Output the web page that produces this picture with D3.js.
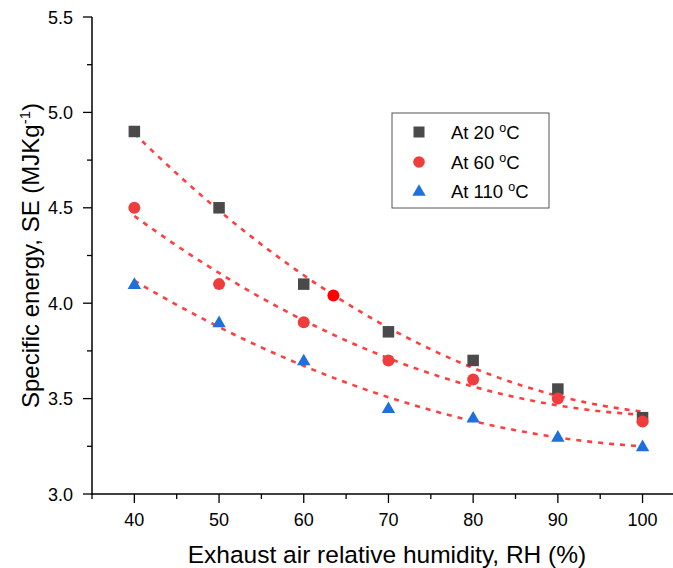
<!DOCTYPE html>
<html>
<head>
<meta charset="utf-8">
<script src="https://d3js.org/d3.v7.min.js"></script>
<style>
  body { margin: 0; background: #fff; }
  text { font-family: "Liberation Sans", Arial, sans-serif; }
</style>
</head>
<body>
<div id="chart"></div>
<script>
// data
var rh = [40, 50, 60, 70, 80, 90, 100];
var se20 = [4.9, 4.5, 4.1, 3.85, 3.7, 3.55, 3.4];
var se60 = [4.5, 4.1, 3.9, 3.7, 3.6, 3.5, 3.38];
var se110 = [4.1, 3.9, 3.7, 3.45, 3.4, 3.3, 3.25];
var strayPoint = [63.5, 4.04];   // lone bright red dot on the top curve
var xTicks = [40, 50, 60, 70, 80, 90, 100];
var yTicks = [3.0, 3.5, 4.0, 4.5, 5.0, 5.5];
var legendLabels = ["At 20 ", "At 60 ", "At 110 "];

var W = 673, H = 568;
var margin = {top: 17, right: 0, bottom: 74, left: 92};

var svg = d3.select("#chart").append("svg")
    .attr("width", W).attr("height", H);

var x = d3.scaleLinear().domain([35, 105]).range([margin.left, margin.left + 70 * 8.47]);
var y = d3.scaleLinear().domain([3.0, 5.5]).range([H - margin.bottom, margin.top]);

// quadratic least squares fit for the dotted trend lines
function quadFit(xs, ys) {
  var n = xs.length, s = [0,0,0,0,0], t = [0,0,0];
  for (var i = 0; i < n; i++) {
    var p = 1;
    for (var k = 0; k < 5; k++) { s[k] += p; if (k < 3) t[k] += p * ys[i]; p *= xs[i]; }
  }
  var A = [[s[0], s[1], s[2], t[0]], [s[1], s[2], s[3], t[1]], [s[2], s[3], s[4], t[2]]];
  for (var c = 0; c < 3; c++) {
    for (var r = c + 1; r < 3; r++) {
      var f = A[r][c] / A[c][c];
      for (var j = c; j < 4; j++) A[r][j] -= f * A[c][j];
    }
  }
  var b = [0,0,0];
  for (var r2 = 2; r2 >= 0; r2--) {
    var v = A[r2][3];
    for (var j2 = r2 + 1; j2 < 3; j2++) v -= A[r2][j2] * b[j2];
    b[r2] = v / A[r2][r2];
  }
  return function(xx) { return b[0] + b[1] * xx + b[2] * xx * xx; };
}

// axes
var xAxisY = y(3.0);
svg.append("line").attr("x1", x(35)).attr("x2", W).attr("y1", xAxisY).attr("y2", xAxisY)
  .attr("stroke", "#000").attr("stroke-width", 1.5);
svg.append("line").attr("x1", x(35)).attr("x2", x(35)).attr("y1", y(5.5)).attr("y2", xAxisY + 0.75)
  .attr("stroke", "#000").attr("stroke-width", 1.5);

// x ticks
d3.range(35, 106, 5).forEach(function(v) {
  var major = v % 10 === 0;
  svg.append("line").attr("x1", x(v)).attr("x2", x(v))
    .attr("y1", xAxisY).attr("y2", xAxisY + (major ? 9 : 5))
    .attr("stroke", "#000").attr("stroke-width", 1.3);
});
svg.selectAll(".xt").data(xTicks).enter().append("text")
  .attr("x", function(d) { return x(d); }).attr("y", 526)
  .attr("text-anchor", "middle").attr("font-size", 18).text(function(d) { return d; });

// y ticks
d3.range(0, 11).forEach(function(i) {
  var v = 3.0 + i * 0.25;
  var major = i % 2 === 0;
  svg.append("line").attr("x1", x(35)).attr("x2", x(35) - (major ? 9 : 5))
    .attr("y1", y(v)).attr("y2", y(v))
    .attr("stroke", "#000").attr("stroke-width", 1.3);
});
svg.selectAll(".yt").data(yTicks).enter().append("text")
  .attr("x", 73).attr("y", function(d) { return y(d) + 6.5; })
  .attr("text-anchor", "end").attr("font-size", 18).text(function(d) { return d.toFixed(1); });

// axis titles
svg.append("text").attr("x", 387).attr("y", 563)
  .attr("text-anchor", "middle").attr("font-size", 24.5)
  .text("Exhaust air relative humidity, RH (%)");

var yt = svg.append("text")
  .attr("transform", "translate(39," + ((y(3) + y(5.5)) / 2) + ") rotate(-90)")
  .attr("text-anchor", "middle").attr("font-size", 24);
yt.append("tspan").text("Specific energy, SE (MJKg");
yt.append("tspan").attr("dy", -9).attr("font-size", 15).text("-1");
yt.append("tspan").attr("dy", 9).text(")");

// fit curves
var series = [se20, se60, se110];
var line = d3.line().x(function(d) { return x(d[0]); }).y(function(d) { return y(d[1]); });
series.forEach(function(s) {
  var f = quadFit(rh, s);
  var pts = d3.range(40, 100.01, 1).map(function(v) { return [v, f(v)]; });
  svg.append("path").datum(pts).attr("d", line)
    .attr("fill", "none").attr("stroke", "#ff2a2a").attr("stroke-opacity", 0.9)
    .attr("stroke-width", 2.6).attr("stroke-dasharray", "5,6");
});

// markers
var sq = 11.5, tri = d3.symbol().type(d3.symbolTriangle).size(78);
svg.selectAll(".s20").data(rh).enter().append("rect")
  .attr("x", function(d) { return x(d) - sq / 2; })
  .attr("y", function(d, i) { return y(se20[i]) - sq / 2; })
  .attr("width", sq).attr("height", sq).attr("fill", "#4a4a4a");
svg.selectAll(".s60").data(rh).enter().append("circle")
  .attr("cx", function(d) { return x(d); })
  .attr("cy", function(d, i) { return y(se60[i]); })
  .attr("r", 6).attr("fill", "#ef3d3d");
svg.selectAll(".s110").data(rh).enter().append("path")
  .attr("d", tri)
  .attr("transform", function(d, i) { return "translate(" + x(d) + "," + (y(se110[i]) + 1) + ")"; })
  .attr("fill", "#1f6fdc");
svg.append("circle").attr("cx", x(strayPoint[0])).attr("cy", y(strayPoint[1]))
  .attr("r", 6).attr("fill", "#ff0000");

// legend
var lg = svg.append("g");
lg.append("rect").attr("x", 392).attr("y", 113).attr("width", 157).attr("height", 95)
  .attr("fill", "#fff").attr("stroke", "#555").attr("stroke-width", 1);
var rowY = [132, 162, 191];
lg.append("rect").attr("x", 419 - 5.5).attr("y", rowY[0] - 5.5).attr("width", 11).attr("height", 11).attr("fill", "#4a4a4a");
lg.append("circle").attr("cx", 419).attr("cy", rowY[1]).attr("r", 5.8).attr("fill", "#ef3d3d");
lg.append("path").attr("d", tri).attr("transform", "translate(419," + (rowY[2] + 1) + ")").attr("fill", "#1f6fdc");
legendLabels.forEach(function(lab, i) {
  var t = lg.append("text").attr("x", 451).attr("y", rowY[i] + 7).attr("font-size", 18.5);
  t.append("tspan").text(lab);
  t.append("tspan").attr("dy", -7).attr("font-size", 12.5).text("o");
  t.append("tspan").attr("dy", 7).text("C");
});
</script>
</body>
</html>
